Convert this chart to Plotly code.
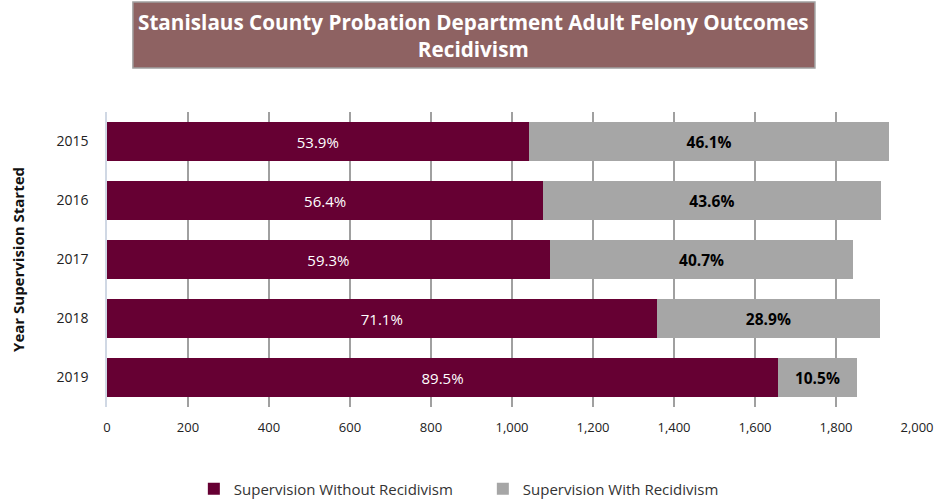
import plotly.graph_objects as go

years = ["2015", "2016", "2017", "2018", "2019"]
without_recid = [1041, 1077, 1093, 1357, 1657]
with_recid = [891, 833, 750, 552, 194]
without_pct = ["53.9%", "56.4%", "59.3%", "71.1%", "89.5%"]
with_pct = ["46.1%", "43.6%", "40.7%", "28.9%", "10.5%"]
x_ticks = [0, 200, 400, 600, 800, 1000, 1200, 1400, 1600, 1800, 2000]
x_tick_labels = ["0", "200", "400", "600", "800", "1,000", "1,200", "1,400", "1,600", "1,800", "2,000"]

PURPLE = "#660033"
GRAY = "#A6A6A6"

fig = go.Figure()
fig.add_trace(go.Bar(
    y=years, x=without_recid, orientation="h", name="Supervision Without Recidivism",
    marker=dict(color=PURPLE, line=dict(width=0)),
    text=without_pct, textposition="inside", insidetextanchor="middle",
    textfont=dict(color="white", size=15, family="Open Sans"),
    constraintext="none", hoverinfo="x+y",
))
fig.add_trace(go.Bar(
    y=years, x=with_recid, orientation="h", name="Supervision With Recidivism",
    marker=dict(color=GRAY, line=dict(width=0)),
    text=with_pct, textposition="inside", insidetextanchor="middle",
    textfont=dict(color="black", size=15.5, family="Open Sans", weight="bold"),
    constraintext="none", hoverinfo="x+y",
))

fig.update_layout(
    barmode="stack",
    bargap=0.34,
    width=948, height=501,
    margin=dict(l=107, r=31, t=112, b=94, autoexpand=False),
    paper_bgcolor="white", plot_bgcolor="white",
    font=dict(family="Open Sans", size=13, color="#222222"),
    showlegend=True,
    legend=dict(orientation="h", x=0.464, xanchor="center", y=-0.278, yanchor="middle",
                font=dict(size=15, color="#333333"), itemwidth=30, traceorder="normal",
                entrywidth=244),
    uniformtext=dict(mode=False),
)
fig.update_xaxes(
    range=[0, 2000], tickvals=x_ticks, ticktext=x_tick_labels,
    showgrid=True, gridcolor="#A0A0A0", gridwidth=1.5,
    zeroline=False, showline=False, automargin=False,
    tickfont=dict(size=13, color="#222222"),
    ticks="outside", ticklen=8, tickcolor="rgba(0,0,0,0)",
)
fig.update_yaxes(
    categoryorder="array", categoryarray=years, autorange="reversed",
    showline=True, linecolor="#D0D8E4", linewidth=1.5, automargin=False,
    ticks="outside", ticklen=14, tickcolor="rgba(0,0,0,0)",
    tickfont=dict(size=14, color="#222222"),
    title=dict(text="Year Supervision Started", font=dict(size=15, color="#111111", weight="bold"),
               standoff=28),
)

fig.add_shape(type="rect", xref="paper", yref="paper",
              x0=0.032, x1=0.874, y0=1.149, y1=1.373,
              fillcolor="#8E6262", line=dict(color="#A0A0A0", width=1.5), layer="below")
fig.add_annotation(xref="paper", yref="paper", x=0.453, y=1.261, yanchor="middle", xanchor="center",
                   text="Stanislaus County Probation Department Adult Felony Outcomes<br>Recidivism",
                   showarrow=False, align="center",
                   font=dict(size=20.7, color="white", family="Open Sans", weight="bold"))

fig.write_html("out.html", config={"displayModeBar": False},
               post_script="document.body.style.margin='0px';")
